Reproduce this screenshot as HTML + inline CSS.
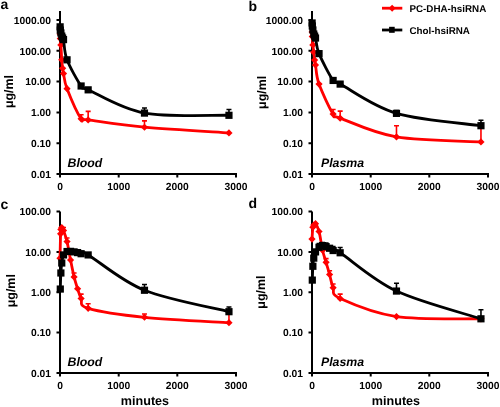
<!DOCTYPE html>
<html><head><meta charset="utf-8"><style>
html,body{margin:0;padding:0;background:#fff;}
body{width:500px;height:407px;overflow:hidden;}
svg{display:block;will-change:transform;}
text{text-rendering:geometricPrecision;font-family:"Liberation Sans", sans-serif;font-weight:bold;fill:#000;}
.tl{font-size:10.3px;}
.yl{font-size:12.4px;}
.pl{font-size:14px;}
.tag{font-size:12.3px;font-style:italic;}
.xl{font-size:12.6px;}
.lg{font-size:9.8px;}
</style></head><body>
<svg width="500" height="407" viewBox="0 0 500 407">
<rect width="500" height="407" fill="#fff"/>
<path d="M60.0,11.0 V174.0 H237.0" fill="none" stroke="#000" stroke-width="2"/>
<path d="M56.5,20.0 H60.0 M56.5,50.8 H60.0 M56.5,81.6 H60.0 M56.5,112.4 H60.0 M56.5,143.2 H60.0 M56.5,174.0 H60.0 M60.0,174.0 V177.5 M118.7,174.0 V177.5 M177.3,174.0 V177.5 M236.0,174.0 V177.5 " fill="none" stroke="#000" stroke-width="2"/>
<text x="51.0" y="23.7" text-anchor="end" class="tl">1000.00</text>
<text x="51.0" y="54.5" text-anchor="end" class="tl">100.00</text>
<text x="51.0" y="85.3" text-anchor="end" class="tl">10.00</text>
<text x="51.0" y="116.1" text-anchor="end" class="tl">1.00</text>
<text x="51.0" y="146.9" text-anchor="end" class="tl">0.10</text>
<text x="51.0" y="177.7" text-anchor="end" class="tl">0.01</text>
<text x="60.0" y="189.5" text-anchor="middle" class="tl">0</text>
<text x="118.7" y="189.5" text-anchor="middle" class="tl">1000</text>
<text x="177.3" y="189.5" text-anchor="middle" class="tl">2000</text>
<text x="236.0" y="189.5" text-anchor="middle" class="tl">3000</text>
<text transform="translate(12.7,91.5) rotate(-90)" text-anchor="middle" class="yl">&#956;g/ml</text>
<text x="0.5" y="8.6" class="pl">a</text>
<text x="67.5" y="166.8" class="tag">Blood</text>
<path d="M60.12,34.04 C60.15,34.79 60.17,36.73 60.29,38.54 C60.42,40.36 60.64,41.39 60.88,44.94 C61.12,48.48 61.47,55.91 61.76,59.81 C62.05,63.70 62.35,66.02 62.64,68.31 C62.93,70.61 62.79,70.20 63.52,73.59 C64.25,76.98 64.11,81.12 67.04,88.66 C69.97,96.19 77.60,113.58 81.12,118.79 C84.64,124.00 77.60,118.51 88.16,119.92 C98.72,121.32 121.01,125.06 144.48,127.23 C167.95,129.40 214.88,132.01 228.96,132.96" fill="none" stroke="#ff0000" stroke-width="2.8" stroke-linejoin="round"/>
<path d="M81.12,118.79 V114.73 M78.62,114.73 H83.62 M88.16,119.92 V111.37 M85.66,111.37 H90.66 M144.48,127.23 V120.89 M141.98,120.89 H146.98 " fill="none" stroke="#ff0000" stroke-width="1.6"/>
<path d="M60.12,30.44 l3.6,3.6 l-3.6,3.6 l-3.6,-3.6z" fill="#ff0000"/>
<path d="M60.29,34.94 l3.6,3.6 l-3.6,3.6 l-3.6,-3.6z" fill="#ff0000"/>
<path d="M60.88,41.34 l3.6,3.6 l-3.6,3.6 l-3.6,-3.6z" fill="#ff0000"/>
<path d="M61.76,56.21 l3.6,3.6 l-3.6,3.6 l-3.6,-3.6z" fill="#ff0000"/>
<path d="M62.64,64.71 l3.6,3.6 l-3.6,3.6 l-3.6,-3.6z" fill="#ff0000"/>
<path d="M63.52,69.99 l3.6,3.6 l-3.6,3.6 l-3.6,-3.6z" fill="#ff0000"/>
<path d="M67.04,85.06 l3.6,3.6 l-3.6,3.6 l-3.6,-3.6z" fill="#ff0000"/>
<path d="M81.12,115.19 l3.6,3.6 l-3.6,3.6 l-3.6,-3.6z" fill="#ff0000"/>
<path d="M88.16,116.32 l3.6,3.6 l-3.6,3.6 l-3.6,-3.6z" fill="#ff0000"/>
<path d="M144.48,123.63 l3.6,3.6 l-3.6,3.6 l-3.6,-3.6z" fill="#ff0000"/>
<path d="M228.96,129.36 l3.6,3.6 l-3.6,3.6 l-3.6,-3.6z" fill="#ff0000"/>
<path d="M60.12,26.83 C60.15,27.38 60.17,29.08 60.29,30.10 C60.42,31.12 60.64,31.94 60.88,32.94 C61.12,33.94 61.47,35.26 61.76,36.10 C62.05,36.95 62.35,37.44 62.64,38.02 C62.93,38.60 62.79,35.97 63.52,39.60 C64.25,43.23 64.11,52.07 67.04,59.81 C69.97,67.54 77.60,80.99 81.12,85.99 C84.64,91.00 77.60,85.33 88.16,89.84 C98.72,94.36 121.01,108.84 144.48,113.09 C167.95,117.33 214.88,114.93 228.96,115.30" fill="none" stroke="#000000" stroke-width="2.8" stroke-linejoin="round"/>
<path d="M144.48,113.09 V108.00 M141.98,108.00 H146.98 M228.96,115.30 V109.52 M226.46,109.52 H231.46 " fill="none" stroke="#000000" stroke-width="1.6"/>
<rect x="56.52" y="23.23" width="7.2" height="7.2" fill="#000"/>
<rect x="56.69" y="26.50" width="7.2" height="7.2" fill="#000"/>
<rect x="57.28" y="29.34" width="7.2" height="7.2" fill="#000"/>
<rect x="58.16" y="32.50" width="7.2" height="7.2" fill="#000"/>
<rect x="59.04" y="34.42" width="7.2" height="7.2" fill="#000"/>
<rect x="59.92" y="36.00" width="7.2" height="7.2" fill="#000"/>
<rect x="63.44" y="56.21" width="7.2" height="7.2" fill="#000"/>
<rect x="77.52" y="82.39" width="7.2" height="7.2" fill="#000"/>
<rect x="84.56" y="86.24" width="7.2" height="7.2" fill="#000"/>
<rect x="140.88" y="109.49" width="7.2" height="7.2" fill="#000"/>
<rect x="225.36" y="111.70" width="7.2" height="7.2" fill="#000"/>
<path d="M312.0,11.0 V174.0 H489.0" fill="none" stroke="#000" stroke-width="2"/>
<path d="M308.5,20.0 H312.0 M308.5,50.8 H312.0 M308.5,81.6 H312.0 M308.5,112.4 H312.0 M308.5,143.2 H312.0 M308.5,174.0 H312.0 M312.0,174.0 V177.5 M370.7,174.0 V177.5 M429.3,174.0 V177.5 M488.0,174.0 V177.5 " fill="none" stroke="#000" stroke-width="2"/>
<text x="303.0" y="23.7" text-anchor="end" class="tl">1000.00</text>
<text x="303.0" y="54.5" text-anchor="end" class="tl">100.00</text>
<text x="303.0" y="85.3" text-anchor="end" class="tl">10.00</text>
<text x="303.0" y="116.1" text-anchor="end" class="tl">1.00</text>
<text x="303.0" y="146.9" text-anchor="end" class="tl">0.10</text>
<text x="303.0" y="177.7" text-anchor="end" class="tl">0.01</text>
<text x="312.0" y="189.5" text-anchor="middle" class="tl">0</text>
<text x="370.7" y="189.5" text-anchor="middle" class="tl">1000</text>
<text x="429.3" y="189.5" text-anchor="middle" class="tl">2000</text>
<text x="488.0" y="189.5" text-anchor="middle" class="tl">3000</text>
<text transform="translate(265.8,92.4) rotate(-90)" text-anchor="middle" class="yl">&#956;g/ml</text>
<text x="248.5" y="11.2" class="pl">b</text>
<text x="321.0" y="166.8" class="tag">Plasma</text>
<path d="M312.12,31.93 C312.15,32.70 312.17,34.39 312.29,36.56 C312.42,38.73 312.64,42.33 312.88,44.94 C313.12,47.55 313.47,49.69 313.76,52.21 C314.05,54.73 314.35,57.94 314.64,60.07 C314.93,62.20 314.79,60.99 315.52,65.00 C316.25,69.00 316.11,75.91 319.04,84.09 C321.97,92.28 329.60,108.43 333.12,114.11 C336.64,119.79 329.60,114.36 340.16,118.16 C350.72,121.96 373.01,132.95 396.48,136.91 C419.95,140.87 466.88,141.09 480.96,141.93" fill="none" stroke="#ff0000" stroke-width="2.8" stroke-linejoin="round"/>
<path d="M333.12,114.11 V109.52 M330.62,109.52 H335.62 M340.16,118.16 V111.13 M337.66,111.13 H342.66 M396.48,136.91 V125.70 M393.98,125.70 H398.98 M480.96,141.93 V125.70 M478.46,125.70 H483.46 " fill="none" stroke="#ff0000" stroke-width="1.6"/>
<path d="M312.12,28.33 l3.6,3.6 l-3.6,3.6 l-3.6,-3.6z" fill="#ff0000"/>
<path d="M312.29,32.96 l3.6,3.6 l-3.6,3.6 l-3.6,-3.6z" fill="#ff0000"/>
<path d="M312.88,41.34 l3.6,3.6 l-3.6,3.6 l-3.6,-3.6z" fill="#ff0000"/>
<path d="M313.76,48.61 l3.6,3.6 l-3.6,3.6 l-3.6,-3.6z" fill="#ff0000"/>
<path d="M314.64,56.47 l3.6,3.6 l-3.6,3.6 l-3.6,-3.6z" fill="#ff0000"/>
<path d="M315.52,61.40 l3.6,3.6 l-3.6,3.6 l-3.6,-3.6z" fill="#ff0000"/>
<path d="M319.04,80.49 l3.6,3.6 l-3.6,3.6 l-3.6,-3.6z" fill="#ff0000"/>
<path d="M333.12,110.51 l3.6,3.6 l-3.6,3.6 l-3.6,-3.6z" fill="#ff0000"/>
<path d="M340.16,114.56 l3.6,3.6 l-3.6,3.6 l-3.6,-3.6z" fill="#ff0000"/>
<path d="M396.48,133.31 l3.6,3.6 l-3.6,3.6 l-3.6,-3.6z" fill="#ff0000"/>
<path d="M480.96,138.33 l3.6,3.6 l-3.6,3.6 l-3.6,-3.6z" fill="#ff0000"/>
<path d="M312.12,22.98 C312.15,23.48 312.17,24.81 312.29,25.97 C312.42,27.13 312.64,28.61 312.88,29.96 C313.12,31.30 313.47,33.02 313.76,34.04 C314.05,35.07 314.35,35.44 314.64,36.10 C314.93,36.77 314.79,35.10 315.52,38.02 C316.25,40.94 316.11,46.55 319.04,53.62 C321.97,60.69 329.60,75.37 333.12,80.45 C336.64,85.53 329.60,78.61 340.16,84.09 C350.72,89.58 373.01,106.44 396.48,113.37 C419.95,120.31 466.88,123.64 480.96,125.70" fill="none" stroke="#000000" stroke-width="2.8" stroke-linejoin="round"/>
<path d="M396.48,113.37 V110.53 M393.98,110.53 H398.98 M480.96,125.70 V120.28 M478.46,120.28 H483.46 " fill="none" stroke="#000000" stroke-width="1.6"/>
<rect x="308.52" y="19.38" width="7.2" height="7.2" fill="#000"/>
<rect x="308.69" y="22.37" width="7.2" height="7.2" fill="#000"/>
<rect x="309.28" y="26.36" width="7.2" height="7.2" fill="#000"/>
<rect x="310.16" y="30.44" width="7.2" height="7.2" fill="#000"/>
<rect x="311.04" y="32.50" width="7.2" height="7.2" fill="#000"/>
<rect x="311.92" y="34.42" width="7.2" height="7.2" fill="#000"/>
<rect x="315.44" y="50.02" width="7.2" height="7.2" fill="#000"/>
<rect x="329.52" y="76.85" width="7.2" height="7.2" fill="#000"/>
<rect x="336.56" y="80.49" width="7.2" height="7.2" fill="#000"/>
<rect x="392.88" y="109.77" width="7.2" height="7.2" fill="#000"/>
<rect x="477.36" y="122.10" width="7.2" height="7.2" fill="#000"/>
<path d="M60.0,211.5 V373.0 H237.0" fill="none" stroke="#000" stroke-width="2"/>
<path d="M56.5,211.5 H60.0 M56.5,251.9 H60.0 M56.5,292.2 H60.0 M56.5,332.6 H60.0 M56.5,373.0 H60.0 M60.0,373.0 V376.5 M118.7,373.0 V376.5 M177.3,373.0 V376.5 M236.0,373.0 V376.5 " fill="none" stroke="#000" stroke-width="2"/>
<text x="51.0" y="215.2" text-anchor="end" class="tl">100.00</text>
<text x="51.0" y="255.6" text-anchor="end" class="tl">10.00</text>
<text x="51.0" y="295.9" text-anchor="end" class="tl">1.00</text>
<text x="51.0" y="336.3" text-anchor="end" class="tl">0.10</text>
<text x="51.0" y="376.7" text-anchor="end" class="tl">0.01</text>
<text x="60.0" y="388.5" text-anchor="middle" class="tl">0</text>
<text x="118.7" y="388.5" text-anchor="middle" class="tl">1000</text>
<text x="177.3" y="388.5" text-anchor="middle" class="tl">2000</text>
<text x="236.0" y="388.5" text-anchor="middle" class="tl">3000</text>
<text transform="translate(14.7,290.7) rotate(-90)" text-anchor="middle" class="yl">&#956;g/ml</text>
<text x="0.5" y="208.5" class="pl">c</text>
<text x="67.5" y="365.8" class="tag">Blood</text>
<text x="145.0" y="405.2" text-anchor="middle" class="xl">minutes</text>
<path d="M60.00,258.13 C60.10,254.08 60.44,238.61 60.59,233.82 C60.73,229.04 60.68,230.46 60.88,229.41 C61.08,228.37 61.32,227.40 61.76,227.57 C62.20,227.73 62.64,228.08 63.52,230.42 C64.40,232.75 65.87,236.64 67.04,241.57 C68.21,246.50 69.39,254.09 70.56,259.98 C71.73,265.87 72.91,272.10 74.08,276.90 C75.25,281.70 76.43,285.16 77.60,288.76 C78.77,292.36 79.36,295.25 81.12,298.50 C82.88,301.76 77.60,305.19 88.16,308.32 C98.72,311.45 121.01,314.87 144.48,317.27 C167.95,319.67 214.88,321.81 228.96,322.71" fill="none" stroke="#ff0000" stroke-width="2.8" stroke-linejoin="round"/>
<path d="M63.52,230.42 V227.57 M61.02,227.57 H66.02 M67.04,241.57 V238.05 M64.54,238.05 H69.54 M74.08,276.90 V272.99 M71.58,272.99 H76.58 M81.12,298.50 V294.10 M78.62,294.10 H83.62 M88.16,308.32 V303.72 M85.66,303.72 H90.66 M144.48,317.27 V313.96 M141.98,313.96 H146.98 M228.96,322.71 V312.79 M226.46,312.79 H231.46 " fill="none" stroke="#ff0000" stroke-width="1.6"/>
<path d="M60.00,254.53 l3.6,3.6 l-3.6,3.6 l-3.6,-3.6z" fill="#ff0000"/>
<path d="M60.59,230.22 l3.6,3.6 l-3.6,3.6 l-3.6,-3.6z" fill="#ff0000"/>
<path d="M60.88,225.81 l3.6,3.6 l-3.6,3.6 l-3.6,-3.6z" fill="#ff0000"/>
<path d="M61.76,223.97 l3.6,3.6 l-3.6,3.6 l-3.6,-3.6z" fill="#ff0000"/>
<path d="M63.52,226.82 l3.6,3.6 l-3.6,3.6 l-3.6,-3.6z" fill="#ff0000"/>
<path d="M67.04,237.97 l3.6,3.6 l-3.6,3.6 l-3.6,-3.6z" fill="#ff0000"/>
<path d="M70.56,256.38 l3.6,3.6 l-3.6,3.6 l-3.6,-3.6z" fill="#ff0000"/>
<path d="M74.08,273.30 l3.6,3.6 l-3.6,3.6 l-3.6,-3.6z" fill="#ff0000"/>
<path d="M77.60,285.16 l3.6,3.6 l-3.6,3.6 l-3.6,-3.6z" fill="#ff0000"/>
<path d="M81.12,294.90 l3.6,3.6 l-3.6,3.6 l-3.6,-3.6z" fill="#ff0000"/>
<path d="M88.16,304.72 l3.6,3.6 l-3.6,3.6 l-3.6,-3.6z" fill="#ff0000"/>
<path d="M144.48,313.67 l3.6,3.6 l-3.6,3.6 l-3.6,-3.6z" fill="#ff0000"/>
<path d="M228.96,319.11 l3.6,3.6 l-3.6,3.6 l-3.6,-3.6z" fill="#ff0000"/>
<path d="M60.29,289.05 C60.39,286.38 60.64,277.33 60.88,272.99 C61.12,268.65 61.32,266.02 61.76,263.01 C62.20,260.00 62.64,256.85 63.52,254.93 C64.40,253.02 65.87,252.12 67.04,251.53 C68.21,250.93 69.39,251.30 70.56,251.36 C71.73,251.41 72.91,251.67 74.08,251.88 C75.25,252.08 76.43,252.28 77.60,252.59 C78.77,252.90 79.36,253.33 81.12,253.72 C82.88,254.11 77.60,248.84 88.16,254.93 C98.72,261.02 121.01,280.80 144.48,290.26 C167.95,299.72 214.88,308.12 228.96,311.69" fill="none" stroke="#000000" stroke-width="2.8" stroke-linejoin="round"/>
<path d="M144.48,290.26 V284.57 M141.98,284.57 H146.98 M228.96,311.69 V307.05 M226.46,307.05 H231.46 " fill="none" stroke="#000000" stroke-width="1.6"/>
<rect x="56.69" y="285.45" width="7.2" height="7.2" fill="#000"/>
<rect x="57.28" y="269.39" width="7.2" height="7.2" fill="#000"/>
<rect x="58.16" y="259.41" width="7.2" height="7.2" fill="#000"/>
<rect x="59.92" y="251.33" width="7.2" height="7.2" fill="#000"/>
<rect x="63.44" y="247.93" width="7.2" height="7.2" fill="#000"/>
<rect x="66.96" y="247.76" width="7.2" height="7.2" fill="#000"/>
<rect x="70.48" y="248.28" width="7.2" height="7.2" fill="#000"/>
<rect x="74.00" y="248.99" width="7.2" height="7.2" fill="#000"/>
<rect x="77.52" y="250.12" width="7.2" height="7.2" fill="#000"/>
<rect x="84.56" y="251.33" width="7.2" height="7.2" fill="#000"/>
<rect x="140.88" y="286.66" width="7.2" height="7.2" fill="#000"/>
<rect x="225.36" y="308.09" width="7.2" height="7.2" fill="#000"/>
<path d="M312.0,211.5 V373.0 H489.0" fill="none" stroke="#000" stroke-width="2"/>
<path d="M308.5,211.5 H312.0 M308.5,251.9 H312.0 M308.5,292.2 H312.0 M308.5,332.6 H312.0 M308.5,373.0 H312.0 M312.0,373.0 V376.5 M370.7,373.0 V376.5 M429.3,373.0 V376.5 M488.0,373.0 V376.5 " fill="none" stroke="#000" stroke-width="2"/>
<text x="303.0" y="215.2" text-anchor="end" class="tl">100.00</text>
<text x="303.0" y="255.6" text-anchor="end" class="tl">10.00</text>
<text x="303.0" y="295.9" text-anchor="end" class="tl">1.00</text>
<text x="303.0" y="336.3" text-anchor="end" class="tl">0.10</text>
<text x="303.0" y="376.7" text-anchor="end" class="tl">0.01</text>
<text x="312.0" y="388.5" text-anchor="middle" class="tl">0</text>
<text x="370.7" y="388.5" text-anchor="middle" class="tl">1000</text>
<text x="429.3" y="388.5" text-anchor="middle" class="tl">2000</text>
<text x="488.0" y="388.5" text-anchor="middle" class="tl">3000</text>
<text transform="translate(265.3,292.1) rotate(-90)" text-anchor="middle" class="yl">&#956;g/ml</text>
<text x="248.5" y="208.3" class="pl">d</text>
<text x="321.0" y="365.8" class="tag">Plasma</text>
<text x="396.0" y="405.2" text-anchor="middle" class="xl">minutes</text>
<path d="M312.00,239.12 C312.15,237.12 312.59,229.47 312.88,227.13 C313.17,224.80 313.32,225.70 313.76,225.12 C314.20,224.54 314.64,222.59 315.52,223.65 C316.40,224.71 317.87,227.05 319.04,231.48 C320.21,235.90 321.39,245.06 322.56,250.20 C323.73,255.35 324.91,258.31 326.08,262.36 C327.25,266.41 328.43,270.30 329.60,274.51 C330.77,278.73 331.36,283.65 333.12,287.65 C334.88,291.65 329.60,293.69 340.16,298.50 C350.72,303.32 373.01,313.18 396.48,316.56 C419.95,319.94 466.88,318.43 480.96,318.80" fill="none" stroke="#ff0000" stroke-width="2.8" stroke-linejoin="round"/>
<path d="M326.08,262.36 V258.64 M323.58,258.64 H328.58 M329.60,274.51 V270.79 M327.10,270.79 H332.10 M333.12,287.65 V284.01 M330.62,284.01 H335.62 M340.16,298.50 V294.10 M337.66,294.10 H342.66 " fill="none" stroke="#ff0000" stroke-width="1.6"/>
<path d="M312.00,235.52 l3.6,3.6 l-3.6,3.6 l-3.6,-3.6z" fill="#ff0000"/>
<path d="M312.88,223.53 l3.6,3.6 l-3.6,3.6 l-3.6,-3.6z" fill="#ff0000"/>
<path d="M313.76,221.52 l3.6,3.6 l-3.6,3.6 l-3.6,-3.6z" fill="#ff0000"/>
<path d="M315.52,220.05 l3.6,3.6 l-3.6,3.6 l-3.6,-3.6z" fill="#ff0000"/>
<path d="M319.04,227.88 l3.6,3.6 l-3.6,3.6 l-3.6,-3.6z" fill="#ff0000"/>
<path d="M322.56,246.60 l3.6,3.6 l-3.6,3.6 l-3.6,-3.6z" fill="#ff0000"/>
<path d="M326.08,258.76 l3.6,3.6 l-3.6,3.6 l-3.6,-3.6z" fill="#ff0000"/>
<path d="M329.60,270.91 l3.6,3.6 l-3.6,3.6 l-3.6,-3.6z" fill="#ff0000"/>
<path d="M333.12,284.05 l3.6,3.6 l-3.6,3.6 l-3.6,-3.6z" fill="#ff0000"/>
<path d="M340.16,294.90 l3.6,3.6 l-3.6,3.6 l-3.6,-3.6z" fill="#ff0000"/>
<path d="M396.48,312.96 l3.6,3.6 l-3.6,3.6 l-3.6,-3.6z" fill="#ff0000"/>
<path d="M480.96,315.20 l3.6,3.6 l-3.6,3.6 l-3.6,-3.6z" fill="#ff0000"/>
<path d="M312.29,280.10 C312.39,277.79 312.64,269.93 312.88,266.27 C313.12,262.61 313.32,260.53 313.76,258.13 C314.20,255.73 314.64,253.68 315.52,251.88 C316.40,250.07 317.87,248.32 319.04,247.27 C320.21,246.23 321.39,245.71 322.56,245.60 C323.73,245.49 324.91,246.17 326.08,246.61 C327.25,247.05 328.43,247.59 329.60,248.25 C330.77,248.90 331.36,249.77 333.12,250.53 C334.88,251.28 329.60,246.02 340.16,252.77 C350.72,259.53 373.01,280.06 396.48,291.06 C419.95,302.07 466.88,314.18 480.96,318.80" fill="none" stroke="#000000" stroke-width="2.8" stroke-linejoin="round"/>
<path d="M319.04,247.27 V243.63 M316.54,243.63 H321.54 M322.56,245.60 V242.57 M320.06,242.57 H325.06 M326.08,246.61 V243.09 M323.58,243.09 H328.58 M333.12,250.53 V246.61 M330.62,246.61 H335.62 M340.16,252.77 V247.55 M337.66,247.55 H342.66 M396.48,291.06 V283.26 M393.98,283.26 H398.98 M480.96,318.80 V309.68 M478.46,309.68 H483.46 " fill="none" stroke="#000000" stroke-width="1.6"/>
<rect x="308.69" y="276.50" width="7.2" height="7.2" fill="#000"/>
<rect x="309.28" y="262.67" width="7.2" height="7.2" fill="#000"/>
<rect x="310.16" y="254.53" width="7.2" height="7.2" fill="#000"/>
<rect x="311.92" y="248.28" width="7.2" height="7.2" fill="#000"/>
<rect x="315.44" y="243.67" width="7.2" height="7.2" fill="#000"/>
<rect x="318.96" y="242.00" width="7.2" height="7.2" fill="#000"/>
<rect x="322.48" y="243.01" width="7.2" height="7.2" fill="#000"/>
<rect x="326.00" y="244.65" width="7.2" height="7.2" fill="#000"/>
<rect x="329.52" y="246.93" width="7.2" height="7.2" fill="#000"/>
<rect x="336.56" y="249.17" width="7.2" height="7.2" fill="#000"/>
<rect x="392.88" y="287.46" width="7.2" height="7.2" fill="#000"/>
<rect x="477.36" y="315.20" width="7.2" height="7.2" fill="#000"/>
<path d="M382,8.2 H402.3" stroke="#ff0000" stroke-width="2.8"/>
<path d="M392.1,4.7 l3.5,3.5 l-3.5,3.5 l-3.5,-3.5z" fill="#ff0000"/>
<text x="409.5" y="12" class="lg">PC-DHA-hsiRNA</text>
<path d="M382,30 H402.3" stroke="#000" stroke-width="2.8"/>
<rect x="389.1" y="26.8" width="5.6" height="6" fill="#000"/>
<text x="409.5" y="33.6" class="lg">Chol-hsiRNA</text>
</svg>
</body></html>
